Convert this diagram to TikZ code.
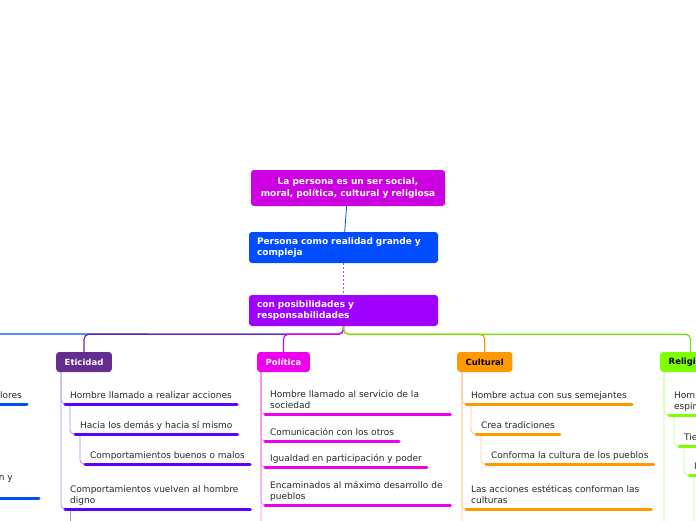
\documentclass[tikz,border=0pt]{standalone}
\usepackage{fontspec}
\setmainfont{DejaVu Sans}

\definecolor{rootc}{RGB}{204,0,224}
\definecolor{persc}{RGB}{0,76,255}
\definecolor{posc}{RGB}{160,0,255}
\definecolor{etic}{RGB}{102,45,145}
\definecolor{etiu}{RGB}{94,0,255}
\definecolor{etil}{RGB}{168,140,255}
\definecolor{polc}{RGB}{238,0,238}
\definecolor{poll}{RGB}{245,130,245}
\definecolor{culc}{RGB}{255,153,0}
\definecolor{cull}{RGB}{255,200,130}
\definecolor{relc}{RGB}{128,255,0}
\definecolor{rell}{RGB}{190,255,140}
\definecolor{bluc}{RGB}{0,80,240}
\definecolor{txt}{RGB}{40,40,40}

\begin{document}
\begin{tikzpicture}[x=1pt,y=-1pt,
  every node/.style={font=\fontsize{9}{11.5}\selectfont},
  big/.style={rounded corners=3pt,fill=#1,text=white,inner xsep=8pt,minimum height=31pt,
    font=\bfseries\fontsize{9}{11.5}\selectfont},
  cat/.style={rounded corners=3pt,fill=#1,anchor=west,inner xsep=8.5pt,minimum height=20pt,
    font=\bfseries\fontsize{8.5}{10}\selectfont},
  item/.style={anchor=south west,align=left,inner xsep=5pt,inner ysep=2.5pt,text depth=2.5pt,text=txt},
  wide/.style={item,text width=175pt,text depth=14pt},
  ul/.style={line width=3pt,line cap=round,#1},
  con/.style={line width=0.8pt,rounded corners=4pt,#1},
  trunk/.style={line width=1.2pt,rounded corners=5pt,#1}]
  \useasboundingbox (0,0) rectangle (696,520);
  \clip (0,0) rectangle (696,520);

  % centre
  \node[big=rootc,text width=178pt,align=center,minimum height=36pt] (root) at (348,188)
    {La persona es un ser social,\\moral, política, cultural y religiosa};
  \node[big=persc,text width=173pt,align=left] (pers) at (343.5,247.5)
    {Persona como realidad grande y\\compleja};
  \node[big=posc,text width=173pt,align=left] (pos) at (343.5,310.5)
    {con posibilidades y\\responsabilidades};
  \draw[persc,line width=0.8pt] (root) -- (pers);
  \draw[posc!70!rootc!75,line width=1pt,dash pattern=on 2pt off 2pt] (pers) -- (pos);

  % branches
  \node[cat=etic,text=white] (eti) at (56,362) {Eticidad};
  \node[cat=polc,text=white] (pol) at (257,362) {Política};
  \node[cat=culc,text=black] (cul) at (457,362) {Cultural};
  \node[cat=relc,text=black] (rel) at (660,362) {Religiosa};
  \coordinate (lft) at (-20,334);
  \draw[trunk=bluc] (pos.south) -- ++(0,8) -- (lft);
  \draw[trunk=etic!80!posc] (pos.south) -- ++(0,8) -| (eti.north);
  \draw[trunk=polc] (pos.south) -- ++(0,8) -| (pol.north);
  \draw[trunk=culc] (pos.south) -- ++(0,8) -| (cul.north);
  \draw[trunk=relc!90!black] (pos.south) -- ++(0,8) -| (rel.north);

  % left (blue)
  \node[item,anchor=south east] (b1) at (27,404) {Persona con valores};
  \node[item,anchor=south east,text depth=15pt] (b2) at (39,498) {Actúa con razón y\hspace*{21pt}};

  % Eticidad
  \node[item] (e1) at (65,404) {Hombre llamado a realizar acciones};
  \node[item] (e2) at (75,434) {Hacia los demás y hacia sí mismo};
  \node[item] (e3) at (85,464) {Comportamientos buenos o malos};
  \node[wide] (e4) at (65,509) {Comportamientos vuelven al hombre\\digno};
  \coordinate (e5) at (70,540);
  \draw[con=etil] (eti.south west) ++(5,0) |- (e1.south west);
  \draw[con=etil] (e1.south west) ++(5,0) |- (e2.south west);
  \draw[con=etil] (e2.south west) ++(5,0) |- (e3.south west);
  \draw[con=etil] (eti.south west) ++(5,0) |- (e4.south west);
  \draw[con=etil] (e4.south west) ++(5,0) -- (e5);

  % Politica
  \node[wide] (p1) at (265,414) {Hombre llamado al servicio de la\\sociedad};
  \node[item] (p2) at (265,441) {Comunicación con los otros};
  \node[item] (p3) at (265,467) {Igualdad en participación y poder};
  \node[wide] (p4) at (265,505) {Encaminados al máximo desarrollo de\\pueblos};
  \coordinate (p5) at (265,540);
  \draw[con=poll] (pol.south west) ++(4,0) |- (p1.south west);
  \draw[con=poll] (pol.south west) ++(4,0) |- (p2.south west);
  \draw[con=poll] (pol.south west) ++(4,0) |- (p3.south west);
  \draw[con=poll] (pol.south west) ++(4,0) |- (p4.south west);
  \draw[con=poll] (pol.south west) ++(4,0) |- (p5);

  % Cultural
  \node[item] (c1) at (466,404) {Hombre actua con sus semejantes};
  \node[item] (c2) at (476,434) {Crea tradiciones};
  \node[item] (c3) at (486,464) {Conforma la cultura de los pueblos};
  \node[wide] (c4) at (466,509) {Las acciones estéticas conforman las\\culturas};
  \coordinate (c5) at (466,540);
  \draw[con=cull] (cul.south west) ++(5,0) |- (c1.south west);
  \draw[con=cull] (c1.south west) ++(5,0) |- (c2.south west);
  \draw[con=cull] (c2.south west) ++(5,0) |- (c3.south west);
  \draw[con=cull] (cul.south west) ++(5,0) |- (c4.south west);
  \draw[con=cull] (cul.south west) ++(5,0) |- (c5);

  % Religiosa
  \node[item] (r1) at (669,415) {Hombre\\espiritual};
  \node[item] (r2) at (679,446) {Tiene fe};
  \node[item] (r3) at (689,475) {Iglesia};
  \coordinate (r4) at (700,540);
  \coordinate (r5) at (669,540);
  \draw[con=rell] (rel.south west) ++(4,0) |- (r1.south west);
  \draw[con=rell] (r1.south west) ++(5,0) |- (r2.south west);
  \draw[con=rell] (r2.south west) ++(5,0) |- (r3.south west);
  \draw[con=rell] (r3.south west) ++(5,0) |- (r4);
  \draw[con=rell] (rel.south west) ++(4,0) |- (r5);

  % underlines
  \foreach \n/\c in {b1/bluc,b2/bluc,e1/etiu,e2/etiu,e3/etiu,e4/etiu,p1/polc,p2/polc,p3/polc,p4/polc,
      c1/culc,c2/culc,c3/culc,c4/culc,r1/relc,r2/relc,r3/relc}
    \draw[ul=\c] (\n.south west) -- (\n.south east);
\end{tikzpicture}
\end{document}
